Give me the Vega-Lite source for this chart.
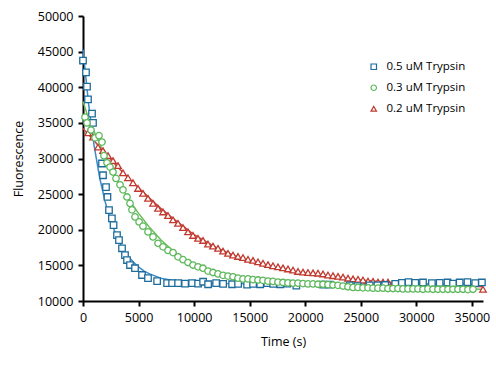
{
  "$schema": "https://vega.github.io/schema/vega-lite/v6.json",
  "width": 400,
  "height": 285,
  "autosize": "none",
  "padding": {"left": 83, "top": 16, "right": 13, "bottom": 67},
  "background": "white",
  "config": {
    "view": {"stroke": null},
    "font": "Open Sans",
    "axis": {
      "grid": false,
      "domainColor": "black",
      "domainWidth": 2,
      "tickColor": "black",
      "tickWidth": 2,
      "tickSize": 5,
      "labelFont": "Open Sans",
      "labelFontSize": 12.5,
      "labelColor": "black",
      "labelOverlap": false,
      "titleFont": "Open Sans",
      "titleFontSize": 12.5,
      "titleFontWeight": "normal",
      "titleColor": "black"
    },
    "legend": {
      "labelFont": "Open Sans",
      "labelFontSize": 11.5,
      "labelColor": "black"
    }
  },
  "datasets": {
    "fits": [
      {"series": "0.5 uM Trypsin", "t": 0, "f": 45300},
      {"series": "0.5 uM Trypsin", "t": 500, "f": 37700},
      {"series": "0.5 uM Trypsin", "t": 1000, "f": 31800},
      {"series": "0.5 uM Trypsin", "t": 1500, "f": 27300},
      {"series": "0.5 uM Trypsin", "t": 2000, "f": 23900},
      {"series": "0.5 uM Trypsin", "t": 2500, "f": 21200},
      {"series": "0.5 uM Trypsin", "t": 3000, "f": 19200},
      {"series": "0.5 uM Trypsin", "t": 3500, "f": 17600},
      {"series": "0.5 uM Trypsin", "t": 4000, "f": 16400},
      {"series": "0.5 uM Trypsin", "t": 4500, "f": 15500},
      {"series": "0.5 uM Trypsin", "t": 5000, "f": 14800},
      {"series": "0.5 uM Trypsin", "t": 5500, "f": 14200},
      {"series": "0.5 uM Trypsin", "t": 6000, "f": 13800},
      {"series": "0.5 uM Trypsin", "t": 7000, "f": 13200},
      {"series": "0.5 uM Trypsin", "t": 8000, "f": 12900},
      {"series": "0.5 uM Trypsin", "t": 9000, "f": 12700},
      {"series": "0.5 uM Trypsin", "t": 10000, "f": 12570},
      {"series": "0.5 uM Trypsin", "t": 12000, "f": 12450},
      {"series": "0.5 uM Trypsin", "t": 15000, "f": 12410},
      {"series": "0.5 uM Trypsin", "t": 20000, "f": 12400},
      {"series": "0.5 uM Trypsin", "t": 36000, "f": 12400},
      {"series": "0.3 uM Trypsin", "t": 0, "f": 38000},
      {"series": "0.3 uM Trypsin", "t": 500, "f": 35600},
      {"series": "0.3 uM Trypsin", "t": 1000, "f": 33800},
      {"series": "0.3 uM Trypsin", "t": 1500, "f": 32100},
      {"series": "0.3 uM Trypsin", "t": 2000, "f": 30300},
      {"series": "0.3 uM Trypsin", "t": 2500, "f": 28700},
      {"series": "0.3 uM Trypsin", "t": 3000, "f": 27200},
      {"series": "0.3 uM Trypsin", "t": 3500, "f": 25900},
      {"series": "0.3 uM Trypsin", "t": 4000, "f": 24600},
      {"series": "0.3 uM Trypsin", "t": 4500, "f": 23400},
      {"series": "0.3 uM Trypsin", "t": 5000, "f": 22300},
      {"series": "0.3 uM Trypsin", "t": 5500, "f": 21300},
      {"series": "0.3 uM Trypsin", "t": 6000, "f": 20300},
      {"series": "0.3 uM Trypsin", "t": 7000, "f": 18600},
      {"series": "0.3 uM Trypsin", "t": 8000, "f": 17200},
      {"series": "0.3 uM Trypsin", "t": 9000, "f": 16000},
      {"series": "0.3 uM Trypsin", "t": 10000, "f": 15100},
      {"series": "0.3 uM Trypsin", "t": 11000, "f": 14400},
      {"series": "0.3 uM Trypsin", "t": 12000, "f": 13900},
      {"series": "0.3 uM Trypsin", "t": 13000, "f": 13500},
      {"series": "0.3 uM Trypsin", "t": 14000, "f": 13200},
      {"series": "0.3 uM Trypsin", "t": 16000, "f": 12800},
      {"series": "0.3 uM Trypsin", "t": 18000, "f": 12500},
      {"series": "0.3 uM Trypsin", "t": 20000, "f": 12300},
      {"series": "0.3 uM Trypsin", "t": 24000, "f": 12000},
      {"series": "0.3 uM Trypsin", "t": 28000, "f": 11800},
      {"series": "0.3 uM Trypsin", "t": 36000, "f": 11650},
      {"series": "0.2 uM Trypsin", "t": 0, "f": 34200},
      {"series": "0.2 uM Trypsin", "t": 1000, "f": 32500},
      {"series": "0.2 uM Trypsin", "t": 2000, "f": 30700},
      {"series": "0.2 uM Trypsin", "t": 3000, "f": 29000},
      {"series": "0.2 uM Trypsin", "t": 4000, "f": 27400},
      {"series": "0.2 uM Trypsin", "t": 5000, "f": 25900},
      {"series": "0.2 uM Trypsin", "t": 6000, "f": 24400},
      {"series": "0.2 uM Trypsin", "t": 7000, "f": 23000},
      {"series": "0.2 uM Trypsin", "t": 8000, "f": 21700},
      {"series": "0.2 uM Trypsin", "t": 9000, "f": 20500},
      {"series": "0.2 uM Trypsin", "t": 10000, "f": 19300},
      {"series": "0.2 uM Trypsin", "t": 12000, "f": 17500},
      {"series": "0.2 uM Trypsin", "t": 14000, "f": 16100},
      {"series": "0.2 uM Trypsin", "t": 16000, "f": 15100},
      {"series": "0.2 uM Trypsin", "t": 18000, "f": 14400},
      {"series": "0.2 uM Trypsin", "t": 20000, "f": 13900},
      {"series": "0.2 uM Trypsin", "t": 22000, "f": 13500},
      {"series": "0.2 uM Trypsin", "t": 24000, "f": 13100},
      {"series": "0.2 uM Trypsin", "t": 26000, "f": 12800},
      {"series": "0.2 uM Trypsin", "t": 28000, "f": 12600},
      {"series": "0.2 uM Trypsin", "t": 30000, "f": 12400},
      {"series": "0.2 uM Trypsin", "t": 33000, "f": 12200},
      {"series": "0.2 uM Trypsin", "t": 36000, "f": 12000}
    ],
    "points": [
      {"series": "0.2 uM Trypsin", "t": 450, "f": 33600},
      {"series": "0.2 uM Trypsin", "t": 900, "f": 33000},
      {"series": "0.2 uM Trypsin", "t": 1350, "f": 31600},
      {"series": "0.2 uM Trypsin", "t": 1800, "f": 31100},
      {"series": "0.2 uM Trypsin", "t": 2250, "f": 30400},
      {"series": "0.2 uM Trypsin", "t": 2700, "f": 29700},
      {"series": "0.2 uM Trypsin", "t": 3150, "f": 29000},
      {"series": "0.2 uM Trypsin", "t": 3600, "f": 28000},
      {"series": "0.2 uM Trypsin", "t": 4050, "f": 27300},
      {"series": "0.2 uM Trypsin", "t": 4500, "f": 26600},
      {"series": "0.2 uM Trypsin", "t": 4950, "f": 25800},
      {"series": "0.2 uM Trypsin", "t": 5400, "f": 25100},
      {"series": "0.2 uM Trypsin", "t": 5850, "f": 24400},
      {"series": "0.2 uM Trypsin", "t": 6300, "f": 23700},
      {"series": "0.2 uM Trypsin", "t": 6750, "f": 23000},
      {"series": "0.2 uM Trypsin", "t": 7200, "f": 22500},
      {"series": "0.2 uM Trypsin", "t": 7650, "f": 22000},
      {"series": "0.2 uM Trypsin", "t": 8100, "f": 21400},
      {"series": "0.2 uM Trypsin", "t": 8550, "f": 20900},
      {"series": "0.2 uM Trypsin", "t": 9000, "f": 20300},
      {"series": "0.2 uM Trypsin", "t": 9450, "f": 19700},
      {"series": "0.2 uM Trypsin", "t": 9900, "f": 19200},
      {"series": "0.2 uM Trypsin", "t": 10350, "f": 18800},
      {"series": "0.2 uM Trypsin", "t": 10800, "f": 18500},
      {"series": "0.2 uM Trypsin", "t": 11250, "f": 18000},
      {"series": "0.2 uM Trypsin", "t": 11700, "f": 17700},
      {"series": "0.2 uM Trypsin", "t": 12150, "f": 17400},
      {"series": "0.2 uM Trypsin", "t": 12600, "f": 17000},
      {"series": "0.2 uM Trypsin", "t": 13050, "f": 16700},
      {"series": "0.2 uM Trypsin", "t": 13500, "f": 16450},
      {"series": "0.2 uM Trypsin", "t": 13950, "f": 16250},
      {"series": "0.2 uM Trypsin", "t": 14400, "f": 16100},
      {"series": "0.2 uM Trypsin", "t": 14850, "f": 15850},
      {"series": "0.2 uM Trypsin", "t": 15300, "f": 15700},
      {"series": "0.2 uM Trypsin", "t": 15750, "f": 15500},
      {"series": "0.2 uM Trypsin", "t": 16200, "f": 15300},
      {"series": "0.2 uM Trypsin", "t": 16650, "f": 15100},
      {"series": "0.2 uM Trypsin", "t": 17100, "f": 14950},
      {"series": "0.2 uM Trypsin", "t": 17550, "f": 14800},
      {"series": "0.2 uM Trypsin", "t": 18000, "f": 14650},
      {"series": "0.2 uM Trypsin", "t": 18450, "f": 14500},
      {"series": "0.2 uM Trypsin", "t": 18900, "f": 14350},
      {"series": "0.2 uM Trypsin", "t": 19350, "f": 14150},
      {"series": "0.2 uM Trypsin", "t": 19800, "f": 14050},
      {"series": "0.2 uM Trypsin", "t": 20250, "f": 14000},
      {"series": "0.2 uM Trypsin", "t": 20700, "f": 13950},
      {"series": "0.2 uM Trypsin", "t": 21150, "f": 13900},
      {"series": "0.2 uM Trypsin", "t": 21600, "f": 13800},
      {"series": "0.2 uM Trypsin", "t": 22050, "f": 13650},
      {"series": "0.2 uM Trypsin", "t": 22500, "f": 13550},
      {"series": "0.2 uM Trypsin", "t": 22950, "f": 13450},
      {"series": "0.2 uM Trypsin", "t": 23400, "f": 13350},
      {"series": "0.2 uM Trypsin", "t": 23850, "f": 13200},
      {"series": "0.2 uM Trypsin", "t": 24300, "f": 13100},
      {"series": "0.2 uM Trypsin", "t": 24750, "f": 13050},
      {"series": "0.2 uM Trypsin", "t": 25200, "f": 12950},
      {"series": "0.2 uM Trypsin", "t": 25650, "f": 12800},
      {"series": "0.2 uM Trypsin", "t": 26100, "f": 12750},
      {"series": "0.2 uM Trypsin", "t": 26550, "f": 12650},
      {"series": "0.2 uM Trypsin", "t": 27000, "f": 12650},
      {"series": "0.2 uM Trypsin", "t": 27450, "f": 12650},
      {"series": "0.2 uM Trypsin", "t": 36000, "f": 11650},
      {"series": "0.5 uM Trypsin", "t": 0, "f": 43750},
      {"series": "0.5 uM Trypsin", "t": 270, "f": 42100},
      {"series": "0.5 uM Trypsin", "t": 360, "f": 40100},
      {"series": "0.5 uM Trypsin", "t": 450, "f": 38300},
      {"series": "0.5 uM Trypsin", "t": 810, "f": 36300},
      {"series": "0.5 uM Trypsin", "t": 900, "f": 35000},
      {"series": "0.5 uM Trypsin", "t": 1710, "f": 29300},
      {"series": "0.5 uM Trypsin", "t": 1800, "f": 27650},
      {"series": "0.5 uM Trypsin", "t": 2070, "f": 25970},
      {"series": "0.5 uM Trypsin", "t": 2200, "f": 24600},
      {"series": "0.5 uM Trypsin", "t": 2340, "f": 22750},
      {"series": "0.5 uM Trypsin", "t": 2600, "f": 21600},
      {"series": "0.5 uM Trypsin", "t": 2750, "f": 20650},
      {"series": "0.5 uM Trypsin", "t": 3060, "f": 19250},
      {"series": "0.5 uM Trypsin", "t": 3240, "f": 18550},
      {"series": "0.5 uM Trypsin", "t": 3510, "f": 17400},
      {"series": "0.5 uM Trypsin", "t": 3780, "f": 16450},
      {"series": "0.5 uM Trypsin", "t": 3960, "f": 15750},
      {"series": "0.5 uM Trypsin", "t": 4230, "f": 15050},
      {"series": "0.5 uM Trypsin", "t": 4680, "f": 14600},
      {"series": "0.5 uM Trypsin", "t": 5310, "f": 13650},
      {"series": "0.5 uM Trypsin", "t": 5850, "f": 13200},
      {"series": "0.5 uM Trypsin", "t": 6670, "f": 12800},
      {"series": "0.5 uM Trypsin", "t": 7570, "f": 12500},
      {"series": "0.5 uM Trypsin", "t": 8020, "f": 12500},
      {"series": "0.5 uM Trypsin", "t": 8560, "f": 12500},
      {"series": "0.5 uM Trypsin", "t": 9190, "f": 12450},
      {"series": "0.5 uM Trypsin", "t": 9820, "f": 12500},
      {"series": "0.5 uM Trypsin", "t": 10360, "f": 12450},
      {"series": "0.5 uM Trypsin", "t": 10810, "f": 12700},
      {"series": "0.5 uM Trypsin", "t": 11260, "f": 12350},
      {"series": "0.5 uM Trypsin", "t": 11980, "f": 12500},
      {"series": "0.5 uM Trypsin", "t": 12610, "f": 12400},
      {"series": "0.5 uM Trypsin", "t": 13420, "f": 12350},
      {"series": "0.5 uM Trypsin", "t": 13960, "f": 12400},
      {"series": "0.5 uM Trypsin", "t": 14770, "f": 12300},
      {"series": "0.5 uM Trypsin", "t": 15310, "f": 12400},
      {"series": "0.5 uM Trypsin", "t": 15950, "f": 12350},
      {"series": "0.5 uM Trypsin", "t": 16580, "f": 12500},
      {"series": "0.5 uM Trypsin", "t": 17120, "f": 12400},
      {"series": "0.5 uM Trypsin", "t": 17750, "f": 12350},
      {"series": "0.5 uM Trypsin", "t": 18380, "f": 12450},
      {"series": "0.5 uM Trypsin", "t": 19200, "f": 12150},
      {"series": "0.5 uM Trypsin", "t": 21600, "f": 12300},
      {"series": "0.5 uM Trypsin", "t": 22200, "f": 12300},
      {"series": "0.5 uM Trypsin", "t": 24000, "f": 12200},
      {"series": "0.5 uM Trypsin", "t": 24700, "f": 12100},
      {"series": "0.5 uM Trypsin", "t": 25800, "f": 12200},
      {"series": "0.5 uM Trypsin", "t": 26500, "f": 12200},
      {"series": "0.5 uM Trypsin", "t": 27200, "f": 12250},
      {"series": "0.5 uM Trypsin", "t": 28100, "f": 12400},
      {"series": "0.5 uM Trypsin", "t": 28700, "f": 12550},
      {"series": "0.5 uM Trypsin", "t": 29300, "f": 12650},
      {"series": "0.5 uM Trypsin", "t": 29900, "f": 12550},
      {"series": "0.5 uM Trypsin", "t": 30600, "f": 12600},
      {"series": "0.5 uM Trypsin", "t": 31400, "f": 12500},
      {"series": "0.5 uM Trypsin", "t": 32100, "f": 12550},
      {"series": "0.5 uM Trypsin", "t": 32800, "f": 12600},
      {"series": "0.5 uM Trypsin", "t": 33300, "f": 12450},
      {"series": "0.5 uM Trypsin", "t": 33900, "f": 12600},
      {"series": "0.5 uM Trypsin", "t": 34600, "f": 12650},
      {"series": "0.5 uM Trypsin", "t": 35300, "f": 12500},
      {"series": "0.5 uM Trypsin", "t": 35900, "f": 12600},
      {"series": "0.3 uM Trypsin", "t": 180, "f": 35800},
      {"series": "0.3 uM Trypsin", "t": 360, "f": 35000},
      {"series": "0.3 uM Trypsin", "t": 720, "f": 34000},
      {"series": "0.3 uM Trypsin", "t": 1080, "f": 32900},
      {"series": "0.3 uM Trypsin", "t": 1440, "f": 33200},
      {"series": "0.3 uM Trypsin", "t": 1710, "f": 32300},
      {"series": "0.3 uM Trypsin", "t": 1890, "f": 30400},
      {"series": "0.3 uM Trypsin", "t": 2160, "f": 29400},
      {"series": "0.3 uM Trypsin", "t": 2430, "f": 28800},
      {"series": "0.3 uM Trypsin", "t": 2700, "f": 28100},
      {"series": "0.3 uM Trypsin", "t": 2970, "f": 27200},
      {"series": "0.3 uM Trypsin", "t": 3330, "f": 26300},
      {"series": "0.3 uM Trypsin", "t": 3600, "f": 25600},
      {"series": "0.3 uM Trypsin", "t": 3960, "f": 24600},
      {"series": "0.3 uM Trypsin", "t": 4230, "f": 23700},
      {"series": "0.3 uM Trypsin", "t": 4410, "f": 22800},
      {"series": "0.3 uM Trypsin", "t": 4680, "f": 21800},
      {"series": "0.3 uM Trypsin", "t": 5050, "f": 21100},
      {"series": "0.3 uM Trypsin", "t": 5400, "f": 20500},
      {"series": "0.3 uM Trypsin", "t": 5850, "f": 19700},
      {"series": "0.3 uM Trypsin", "t": 6300, "f": 19000},
      {"series": "0.3 uM Trypsin", "t": 6750, "f": 18100},
      {"series": "0.3 uM Trypsin", "t": 7200, "f": 17600},
      {"series": "0.3 uM Trypsin", "t": 7650, "f": 17100},
      {"series": "0.3 uM Trypsin", "t": 8100, "f": 16800},
      {"series": "0.3 uM Trypsin", "t": 8550, "f": 16200},
      {"series": "0.3 uM Trypsin", "t": 9000, "f": 15800},
      {"series": "0.3 uM Trypsin", "t": 9450, "f": 15400},
      {"series": "0.3 uM Trypsin", "t": 9900, "f": 15050},
      {"series": "0.3 uM Trypsin", "t": 10350, "f": 14800},
      {"series": "0.3 uM Trypsin", "t": 10800, "f": 14600},
      {"series": "0.3 uM Trypsin", "t": 11250, "f": 14200},
      {"series": "0.3 uM Trypsin", "t": 11700, "f": 14000},
      {"series": "0.3 uM Trypsin", "t": 12150, "f": 13800},
      {"series": "0.3 uM Trypsin", "t": 12600, "f": 13600},
      {"series": "0.3 uM Trypsin", "t": 13050, "f": 13500},
      {"series": "0.3 uM Trypsin", "t": 13500, "f": 13400},
      {"series": "0.3 uM Trypsin", "t": 13950, "f": 13200},
      {"series": "0.3 uM Trypsin", "t": 14400, "f": 13100},
      {"series": "0.3 uM Trypsin", "t": 14850, "f": 13100},
      {"series": "0.3 uM Trypsin", "t": 15300, "f": 13000},
      {"series": "0.3 uM Trypsin", "t": 15750, "f": 12950},
      {"series": "0.3 uM Trypsin", "t": 16200, "f": 12900},
      {"series": "0.3 uM Trypsin", "t": 16650, "f": 12800},
      {"series": "0.3 uM Trypsin", "t": 17100, "f": 12750},
      {"series": "0.3 uM Trypsin", "t": 17550, "f": 12650},
      {"series": "0.3 uM Trypsin", "t": 18000, "f": 12600},
      {"series": "0.3 uM Trypsin", "t": 18450, "f": 12550},
      {"series": "0.3 uM Trypsin", "t": 18900, "f": 12500},
      {"series": "0.3 uM Trypsin", "t": 19350, "f": 12500},
      {"series": "0.3 uM Trypsin", "t": 19800, "f": 12450},
      {"series": "0.3 uM Trypsin", "t": 20250, "f": 12400},
      {"series": "0.3 uM Trypsin", "t": 20700, "f": 12400},
      {"series": "0.3 uM Trypsin", "t": 21150, "f": 12350},
      {"series": "0.3 uM Trypsin", "t": 21600, "f": 12350},
      {"series": "0.3 uM Trypsin", "t": 22050, "f": 12300},
      {"series": "0.3 uM Trypsin", "t": 22500, "f": 12250},
      {"series": "0.3 uM Trypsin", "t": 22950, "f": 12200},
      {"series": "0.3 uM Trypsin", "t": 23400, "f": 12100},
      {"series": "0.3 uM Trypsin", "t": 23850, "f": 12000},
      {"series": "0.3 uM Trypsin", "t": 24300, "f": 11900},
      {"series": "0.3 uM Trypsin", "t": 24750, "f": 11900},
      {"series": "0.3 uM Trypsin", "t": 25200, "f": 11850},
      {"series": "0.3 uM Trypsin", "t": 25650, "f": 11850},
      {"series": "0.3 uM Trypsin", "t": 26100, "f": 11800},
      {"series": "0.3 uM Trypsin", "t": 26550, "f": 11800},
      {"series": "0.3 uM Trypsin", "t": 27000, "f": 11800},
      {"series": "0.3 uM Trypsin", "t": 27450, "f": 11750},
      {"series": "0.3 uM Trypsin", "t": 27900, "f": 11750},
      {"series": "0.3 uM Trypsin", "t": 28350, "f": 11750},
      {"series": "0.3 uM Trypsin", "t": 28800, "f": 11700},
      {"series": "0.3 uM Trypsin", "t": 29250, "f": 11700},
      {"series": "0.3 uM Trypsin", "t": 29700, "f": 11700},
      {"series": "0.3 uM Trypsin", "t": 30150, "f": 11700},
      {"series": "0.3 uM Trypsin", "t": 30600, "f": 11650},
      {"series": "0.3 uM Trypsin", "t": 31050, "f": 11700},
      {"series": "0.3 uM Trypsin", "t": 31500, "f": 11650},
      {"series": "0.3 uM Trypsin", "t": 31950, "f": 11650},
      {"series": "0.3 uM Trypsin", "t": 32400, "f": 11650},
      {"series": "0.3 uM Trypsin", "t": 32850, "f": 11650},
      {"series": "0.3 uM Trypsin", "t": 33300, "f": 11650},
      {"series": "0.3 uM Trypsin", "t": 33750, "f": 11650},
      {"series": "0.3 uM Trypsin", "t": 34200, "f": 11650},
      {"series": "0.3 uM Trypsin", "t": 34650, "f": 11600},
      {"series": "0.3 uM Trypsin", "t": 35100, "f": 11650}
    ]
  },
  "encoding": {
    "x": {
      "field": "t",
      "type": "quantitative",
      "title": "Time (s)",
      "scale": {"domain": [0, 36000], "nice": false, "zero": false},
      "axis": {"values": [0, 5000, 10000, 15000, 20000, 25000, 30000, 35000], "format": "d", "labelPadding": 5, "titlePadding": 12, "labelFlush": false, "labelOverlap": false}
    },
    "y": {
      "field": "f",
      "type": "quantitative",
      "title": "Fluorescence",
      "scale": {"domain": [10000, 50000], "nice": false, "zero": false},
      "axis": {"values": [10000, 15000, 20000, 25000, 30000, 35000, 40000, 45000, 50000], "format": "d", "labelPadding": 5, "titlePadding": 12, "labelOverlap": false}
    }
  },
  "layer": [
    {
      "data": {"name": "fits"},
      "transform": [{"filter": "datum.series === '0.2 uM Trypsin'"}],
      "mark": {"type": "line", "strokeWidth": 1.5, "color": "#c8473d"},
      "encoding": {}
    },
    {
      "data": {"name": "fits"},
      "transform": [{"filter": "datum.series === '0.3 uM Trypsin'"}],
      "mark": {"type": "line", "strokeWidth": 1.5, "color": "#6abf5a"},
      "encoding": {}
    },
    {
      "data": {"name": "fits"},
      "transform": [{"filter": "datum.series === '0.5 uM Trypsin'"}],
      "mark": {"type": "line", "strokeWidth": 1.5, "color": "#3a8ccc"},
      "encoding": {}
    },
    {
      "data": {"name": "points"},
      "mark": {"type": "point", "filled": false, "fill": "white", "fillOpacity": 1, "strokeWidth": 1.3, "opacity": 1},
      "encoding": {
        "stroke": {
          "field": "series",
          "type": "nominal",
          "scale": {
            "domain": ["0.5 uM Trypsin", "0.3 uM Trypsin", "0.2 uM Trypsin"],
            "range": ["#1d6c9c", "#5cb85a", "#c0392f"]
          },
          "legend": {"title": null, "orient": "none", "legendX": 285, "legendY": 45, "symbolSize": 30, "symbolStrokeWidth": 1.2, "labelOffset": 7, "rowPadding": 8, "padding": 0}
        },
        "shape": {
          "field": "series",
          "type": "nominal",
          "scale": {
            "domain": ["0.5 uM Trypsin", "0.3 uM Trypsin", "0.2 uM Trypsin"],
            "range": ["square", "circle", "triangle-up"]
          },
          "legend": {"title": null, "orient": "none", "legendX": 285, "legendY": 45, "symbolSize": 30, "symbolStrokeWidth": 1.2, "labelOffset": 7, "rowPadding": 8, "padding": 0}
        },
        "size": {"value": 42}
      }
    }
  ]
}
